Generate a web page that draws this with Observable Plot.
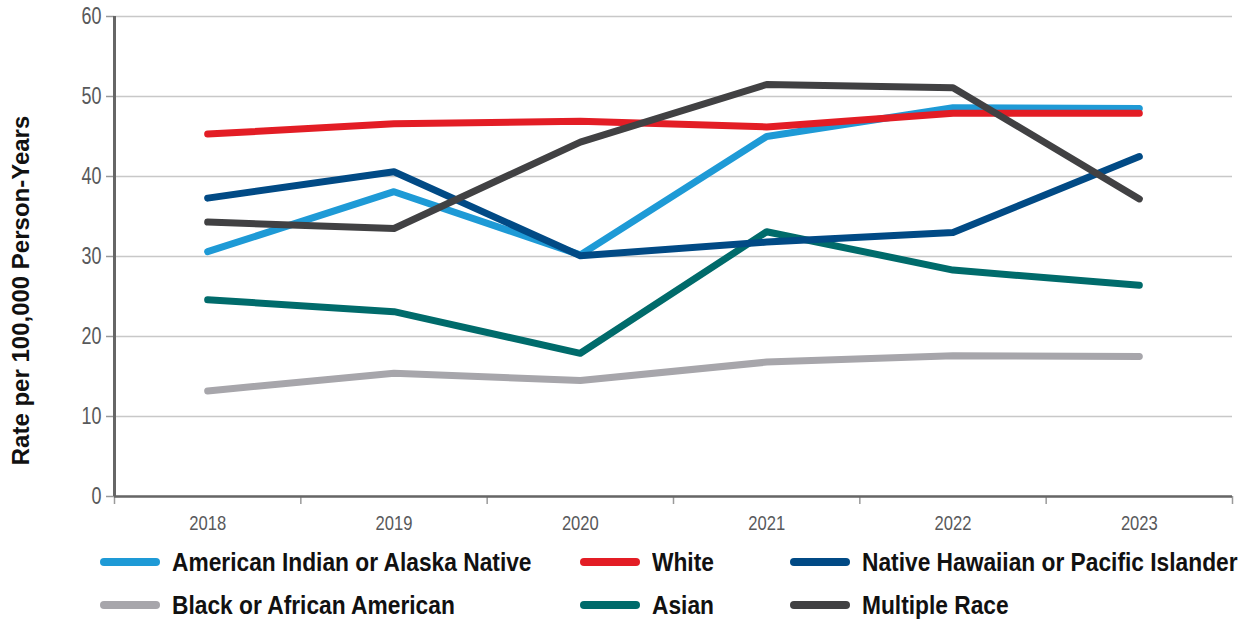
<!DOCTYPE html>
<html>
<head>
<meta charset="utf-8">
<script src="https://cdn.jsdelivr.net/npm/d3@7"></script>
<script src="https://cdn.jsdelivr.net/npm/@observablehq/plot@0.6"></script>
<style>
  html, body { margin: 0; padding: 0; background: #fff; }
  #wrap { position: relative; width: 1252px; height: 619px; }
  .leg { position: absolute; display: flex; align-items: center; font-family: "Liberation Sans", Arial, sans-serif; font-weight: bold; font-size: 25px; color: #111; white-space: nowrap; }
  .leg span { display: inline-block; transform: scaleX(0.91); transform-origin: 0 50%; }
  .sw { width: 60px; height: 8px; border-radius: 4px; margin-right: 12px; flex: none; }
</style>
</head>
<body>
<div id="wrap"></div>
<script>
const years = [2018, 2019, 2020, 2021, 2022, 2023];
const seriesNames = [
  "American Indian or Alaska Native",
  "White",
  "Native Hawaiian or Pacific Islander",
  "Black or African American",
  "Asian",
  "Multiple Race"
];
const seriesColors = ["#1e9ad6", "#e31d25", "#014a85", "#a7a6ab", "#006b6b", "#414143"];
const aian     = [30.6, 38.1, 30.2, 45.0, 48.6, 48.5];
const white    = [45.3, 46.6, 46.9, 46.2, 47.9, 47.9];
const nhpi     = [37.3, 40.6, 30.1, 31.8, 33.0, 42.5];
const black    = [13.2, 15.4, 14.5, 16.8, 17.6, 17.5];
const asian    = [24.6, 23.1, 17.9, 33.1, 28.3, 26.4];
const multiple = [34.3, 33.5, 44.3, 51.5, 51.1, 37.2];
const yTicks = [0, 10, 20, 30, 40, 50, 60];
const yTitle = "Rate per 100,000 Person-Years";

const valuesBySeries = [aian, white, nhpi, black, asian, multiple];
// drawing order bottom -> top
const drawOrder = [3, 0, 4, 2, 1, 5];
const rows = [];
for (const s of drawOrder) {
  years.forEach((yr, i) => rows.push({series: seriesNames[s], year: yr, value: valuesBySeries[s][i]}));
}
const bounds = [years[0] - 0.5, ...years.map(y => y + 0.5)];

const fontStack = "'Liberation Sans', Arial, sans-serif";

const chart = Plot.plot({
  width: 1252,
  height: 540,
  marginLeft: 114,
  marginRight: 20,
  marginTop: 16,
  marginBottom: 44,
  style: {fontFamily: fontStack, background: "#fff"},
  x: {type: "linear", domain: [bounds[0], bounds[bounds.length - 1]]},
  y: {domain: [0, 60]},
  color: {domain: seriesNames, range: seriesColors},
  marks: [
    Plot.gridY(yTicks, {stroke: "#c8c8c8", strokeOpacity: 1, strokeWidth: 1.5}),
    Plot.axisY(yTicks, {tickSize: 8, tickPadding: 5, fontSize: 23, fill: "#58595b", stroke: "#9a9a9a", strokeWidth: 1.5, label: null}),
    Plot.axisX(years, {tickSize: 0, tickPadding: 19, fontSize: 20, fill: "#58595b", tickFormat: d => String(d), label: null}),
    Plot.axisX(bounds, {tickSize: 8, tickFormat: () => "", stroke: "#9a9a9a", strokeWidth: 1.5, label: null}),
    Plot.ruleX([bounds[0]], {y1: 0, y2: 60, stroke: "#666", strokeWidth: 3}),
    Plot.ruleY([0], {stroke: "#666", strokeWidth: 2.5}),
    Plot.line(rows, {x: "year", y: "value", z: "series", stroke: "series", strokeWidth: 7, strokeLinecap: "round", strokeLinejoin: "round"}),
    Plot.text([yTitle], {frameAnchor: "left", textAnchor: "middle", rotate: -90, dx: -93, dy: 34, fontSize: 24, fontWeight: "bold", fill: "#111"})
  ]
});

// condense tick labels (narrow typeface look)
d3.select(chart).selectAll('g[aria-label="y-axis tick label"] text')
  .attr("transform", function() { return this.getAttribute("transform") + " scale(0.78,1)"; });
d3.select(chart).selectAll('g[aria-label="x-axis tick label"] text')
  .attr("transform", function() { return this.getAttribute("transform") + " scale(0.83,1)"; });

const wrap = document.getElementById("wrap");
chart.style.position = "absolute";
chart.style.left = "0px";
chart.style.top = "0px";
wrap.appendChild(chart);

const legCols = [100, 580, 790];
const legRows = [562, 605];
seriesNames.forEach((name, i) => {
  const d = document.createElement("div");
  d.className = "leg";
  d.style.left = legCols[i % 3] + "px";
  d.style.top = (legRows[Math.floor(i / 3)] - 16) + "px";
  d.style.height = "32px";
  const sw = document.createElement("div");
  sw.className = "sw";
  sw.style.background = seriesColors[i];
  const t = document.createElement("span");
  t.textContent = name;
  d.appendChild(sw);
  d.appendChild(t);
  wrap.appendChild(d);
});
</script>
</body>
</html>
